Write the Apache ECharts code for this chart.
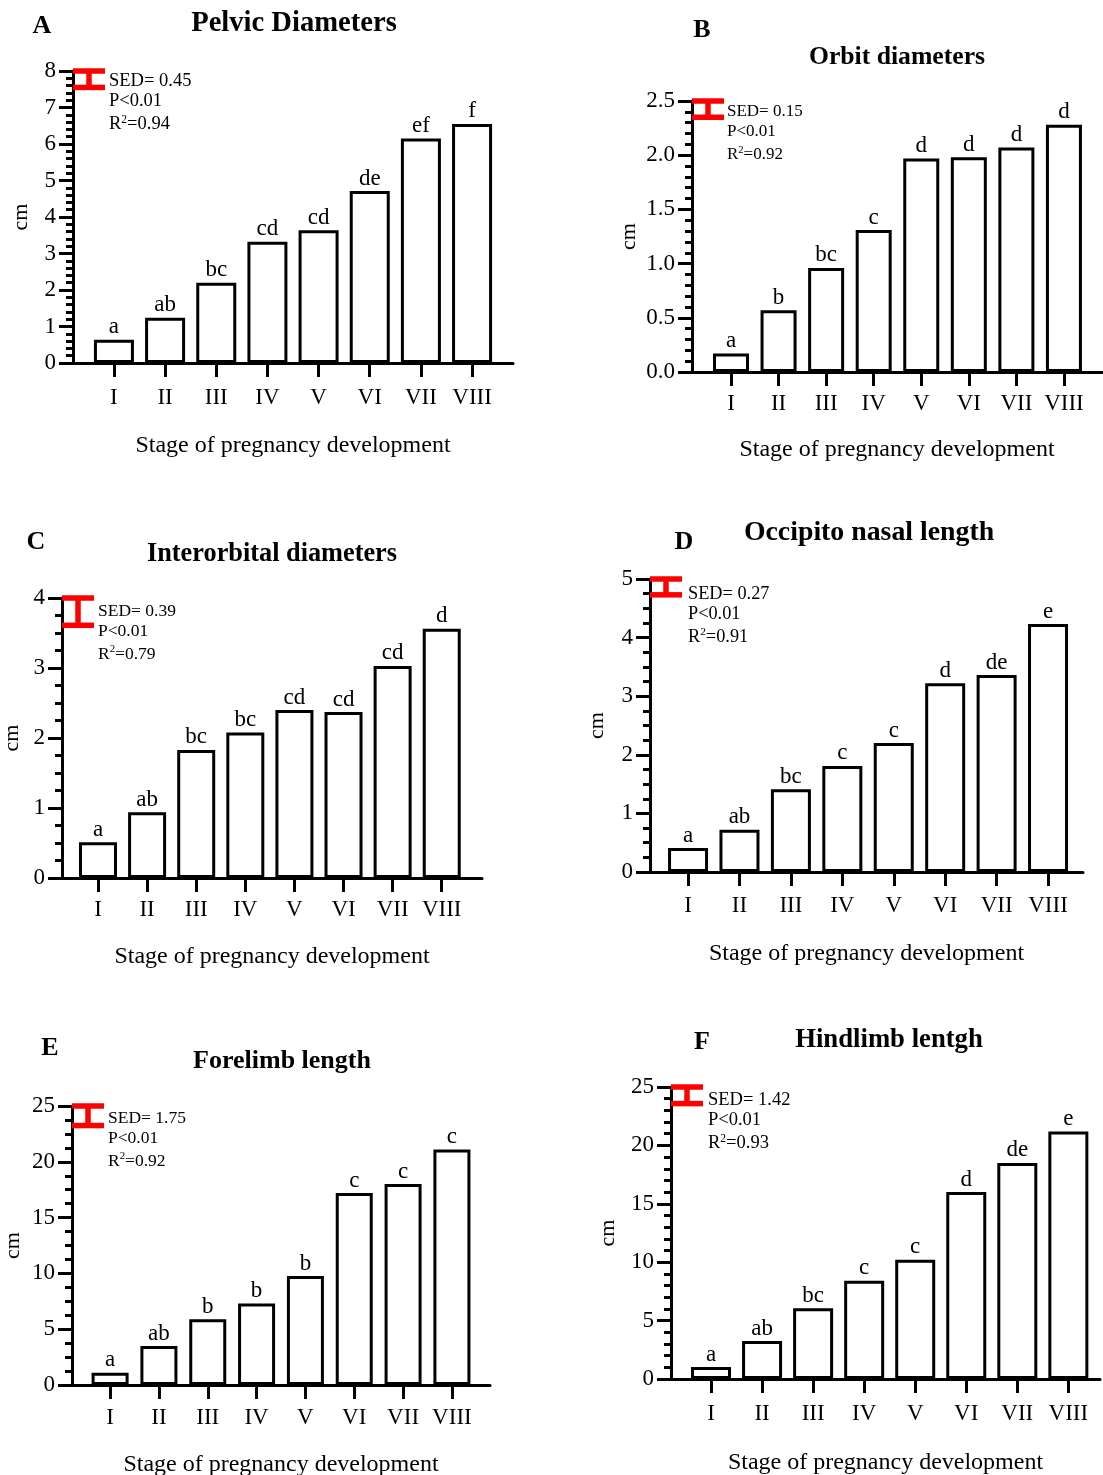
<!DOCTYPE html>
<html>
<head>
<meta charset="utf-8">
<script src="https://cdn.jsdelivr.net/npm/echarts@6/dist/echarts.min.js"></script>
<style>
html,body{margin:0;padding:0;background:#fff;}
#chart{width:1103px;height:1475px;}
</style>
</head>
<body>
<div id="chart"></div>
<script>
// ---- Data ----
const stages = ['I', 'II', 'III', 'IV', 'V', 'VI', 'VII', 'VIII'];
const stagePositions = [1, 2, 3, 4, 5, 6, 7, 8];

const pelvicValues = [0.64, 1.24, 2.2, 3.32, 3.64, 4.71, 6.15, 6.55];
const pelvicLetters = ['a', 'ab', 'bc', 'cd', 'cd', 'de', 'ef', 'f'];

const orbitValues = [0.17, 0.57, 0.96, 1.31, 1.97, 1.98, 2.07, 2.28];
const orbitLetters = ['a', 'b', 'bc', 'c', 'd', 'd', 'd', 'd'];

const interorbitalValues = [0.51, 0.94, 1.83, 2.08, 2.4, 2.37, 3.03, 3.56];
const interorbitalLetters = ['a', 'ab', 'bc', 'bc', 'cd', 'cd', 'cd', 'd'];

const occipitoValues = [0.41, 0.72, 1.41, 1.81, 2.2, 3.22, 3.36, 4.23];
const occipitoLetters = ['a', 'ab', 'bc', 'c', 'c', 'd', 'de', 'e'];

const forelimbValues = [1.1, 3.49, 5.9, 7.3, 9.76, 17.2, 18.0, 21.1];
const forelimbLetters = ['a', 'ab', 'b', 'b', 'b', 'c', 'c', 'c'];

const hindlimbValues = [1.03, 3.25, 6.05, 8.41, 10.2, 16.0, 18.5, 21.2];
const hindlimbLetters = ['a', 'ab', 'bc', 'c', 'c', 'd', 'de', 'e'];

const panelLetters = ['A', 'B', 'C', 'D', 'E', 'F'];
const panelTitles = ['Pelvic Diameters', 'Orbit diameters', 'Interorbital diameters',
  'Occipito nasal length', 'Forelimb length', 'Hindlimb lentgh'];
const sedValues = [0.45, 0.15, 0.39, 0.27, 1.75, 1.42];
const pValues = ['P<0.01', 'P<0.01', 'P<0.01', 'P<0.01', 'P<0.01', 'P<0.01'];
const r2Values = ['0.94', '0.92', '0.79', '0.91', '0.92', '0.93'];
const yMaxValues = [8, 2.5, 4, 5, 25, 25];
const yIntervals = [1, 0.5, 1, 1, 5, 5];
const yMinorSplits = [5, 5, 4, 4, 4, 5];
const yDecimals = [0, 1, 0, 0, 0, 0];
const xAxisName = 'Stage of pregnancy development';
const yAxisName = 'cm';

const seriesValues = [pelvicValues, orbitValues, interorbitalValues, occipitoValues, forelimbValues, hindlimbValues];
const seriesLetters = [pelvicLetters, orbitLetters, interorbitalLetters, occipitoLetters, forelimbLetters, hindlimbLetters];

// ---- Layout / style (positions in pixels) ----
const FONT = 'Liberation Serif';
const layout = [
  {left: 73, right: 513, top: 71, bottom: 363, xmin: 0.2, xmax: 8.8, barW: 40, nameGapX: 71, nameGapY: 41, xLabMargin: 23,
   letter: [42, 26], title: [294, 24], titleSize: 28.6, stat: [109, 71], statSize: 18.5},
  {left: 692, right: 1102, top: 101, bottom: 372, xmin: 0.18, xmax: 8.8, barW: 36, nameGapY: 52, nameGapX: 66, xLabMargin: 20,
   letter: [702, 30], title: [897, 57], titleSize: 25.7, stat: [727, 102], statSize: 17},
  {left: 62, right: 482, top: 598, bottom: 878, xmin: 0.267, xmax: 8.82, barW: 38, nameGapY: 39, nameGapX: 67, xLabMargin: 20,
   letter: [36, 542], title: [272, 554], titleSize: 26.3, stat: [98, 601], statSize: 17.5},
  {left: 650, right: 1083, top: 579, bottom: 872, xmin: 0.26, xmax: 8.68, barW: 40, nameGapY: 42, nameGapX: 70, xLabMargin: 22,
   letter: [684, 542], title: [869, 533], titleSize: 27.8, stat: [688, 584], statSize: 18.3},
  {left: 72, right: 490, top: 1106, bottom: 1385, xmin: 0.22, xmax: 8.78, barW: 37, nameGapY: 48, nameGapX: 68, xLabMargin: 21,
   letter: [50, 1048], title: [282, 1061], titleSize: 26, stat: [108, 1108], statSize: 17.5},
  {left: 671, right: 1100, top: 1087, bottom: 1379, xmin: 0.216, xmax: 8.62, barW: 40, nameGapY: 52, nameGapX: 72, xLabMargin: 23,
   letter: [702, 1042], title: [889, 1040], titleSize: 26.7, stat: [708, 1090], statSize: 18.5}
];

const grids = [], xAxes = [], yAxes = [], series = [], titles = [];

layout.forEach((L, i) => {
  grids.push({
    left: L.left, top: L.top, width: L.right - L.left, height: L.bottom - L.top,
    containLabel: false, outerBoundsMode: 'none'
  });
  xAxes.push({
    type: 'value', gridIndex: i, min: L.xmin, max: L.xmax,
    name: xAxisName, nameLocation: 'middle', nameGap: L.nameGapX,
    nameTextStyle: {fontFamily: FONT, fontSize: 24, color: '#000'},
    axisLine: {show: true, onZero: false, lineStyle: {color: '#000', width: 3}},
    axisTick: {show: true, customValues: stagePositions, length: 14, lineStyle: {color: '#000', width: 3}},
    axisLabel: {show: true, customValues: stagePositions, margin: L.xLabMargin,
      formatter: v => stages[Math.round(v) - 1] || '',
      fontFamily: FONT, fontSize: 23, color: '#000'},
    splitLine: {show: false}
  });
  yAxes.push({
    type: 'value', gridIndex: i, min: 0, max: yMaxValues[i], interval: yIntervals[i],
    name: yAxisName, nameLocation: 'middle', nameGap: L.nameGapY, nameRotate: 90,
    nameTextStyle: {fontFamily: FONT, fontSize: 22, color: '#000'},
    axisLine: {show: true, lineStyle: {color: '#000', width: 3}},
    axisTick: {show: true, length: 14, lineStyle: {color: '#000', width: 3}},
    minorTick: {show: true, splitNumber: yMinorSplits[i], length: 7, lineStyle: {color: '#000', width: 3}},
    axisLabel: {margin: 17, fontFamily: FONT, fontSize: 23, color: '#000',
      formatter: v => v.toFixed(yDecimals[i])},
    splitLine: {show: false}, minorSplitLine: {show: false}
  });
  const vals = seriesValues[i], letters = seriesLetters[i];
  series.push({
    type: 'bar', xAxisIndex: i, yAxisIndex: i,
    data: vals.map((v, k) => [stagePositions[k], v]),
    barWidth: L.barW,
    itemStyle: {color: '#fff', borderColor: '#000', borderWidth: 3},
    label: {show: true, position: 'top', distance: 1,
      formatter: p => letters[p.dataIndex],
      fontFamily: FONT, fontSize: 23, color: '#000'},
    emphasis: {disabled: true}, silent: true, z: 2
  });
  series.push({
    type: 'custom', xAxisIndex: i, yAxisIndex: i, clip: false, z: 5, silent: true,
    data: [[L.xmin, yMaxValues[i], yMaxValues[i] - sedValues[i]]],
    encode: {x: 0, y: [1, 2]},
    renderItem: (params, api) => {
      const top = api.coord([api.value(0), api.value(1)]);
      const bot = api.coord([api.value(0), api.value(2)]);
      const w = 32, x0 = top[0];
      const style = {stroke: '#ff0000', lineWidth: 5.5};
      return {type: 'group', children: [
        {type: 'line', shape: {x1: x0, y1: top[1], x2: x0 + w, y2: top[1]}, style},
        {type: 'line', shape: {x1: x0, y1: bot[1], x2: x0 + w, y2: bot[1]}, style},
        {type: 'line', shape: {x1: x0 + w / 2, y1: top[1], x2: x0 + w / 2, y2: bot[1]}, style}
      ]};
    }
  });
  titles.push({
    text: panelLetters[i], left: L.letter[0], top: L.letter[1], textAlign: 'center', textVerticalAlign: 'middle',
    padding: 0,
    textStyle: {fontFamily: FONT, fontWeight: 'bold', fontSize: 26, color: '#000'}
  });
  titles.push({
    text: panelTitles[i], left: L.title[0], top: L.title[1], textAlign: 'center', textVerticalAlign: 'middle',
    padding: 0,
    textStyle: {fontFamily: FONT, fontWeight: 'bold', fontSize: L.titleSize, color: '#000'}
  });
  const fs = L.statSize;
  titles.push({
    text: '{t|SED= ' + sedValues[i].toFixed(2) + '}\n{t|' + pValues[i] + '}\n{r|R}{s|2}{r|=' + r2Values[i] + '}',
    left: L.stat[0], top: L.stat[1], padding: 0,
    textStyle: {
      fontWeight: 'normal',
      rich: {
        t: {fontFamily: FONT, fontWeight: 'normal', fontSize: fs, color: '#000', lineHeight: 20},
        r: {fontFamily: FONT, fontWeight: 'normal', fontSize: fs, color: '#000', lineHeight: 20,
            padding: [4, 0, 0, 0], verticalAlign: 'top'},
        s: {fontFamily: FONT, fontWeight: 'normal', fontSize: fs * 0.62, color: '#000', lineHeight: 11,
            padding: [3, 0, 0, 0], verticalAlign: 'top'}
      }
    }
  });
});

const chart = echarts.init(document.getElementById('chart'), null, {renderer: 'canvas'});
chart.setOption({
  backgroundColor: '#fff',
  animation: false,
  title: titles,
  grid: grids,
  xAxis: xAxes,
  yAxis: yAxes,
  series: series
});
</script>
</body>
</html>
